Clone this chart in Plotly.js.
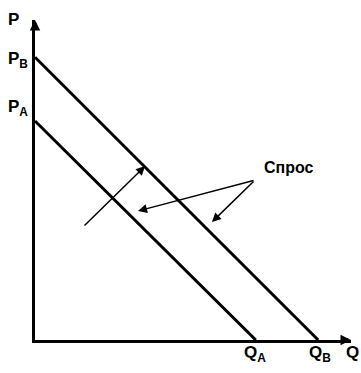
<!DOCTYPE html>
<html><head><meta charset="utf-8">
<script src="https://cdn.plot.ly/plotly-3.0.1.min.js"></script>
<style>html,body{margin:0;padding:0;background:#fff}#c{width:361px;height:373px}</style>
</head><body><div id="c"></div>
<script>
// Demand curves (price intercept, quantity intercept)
const demandA_Q = [0, 6.9];
const demandA_P = [6.74, 0];
const demandB_Q = [0, 8.85];
const demandB_P = [8.7, 0];
// Shift arrow (from, to)
const shiftQ = [1.5, 3.44];
const shiftP = [3.48, 5.35];
// Label "Спрос" and its pointer targets
const labelText = "Спрос";
const labelPos = [7.95, 5.3];
const pointerFrom = [6.875, 4.92];
const pointerTargetsQ = [3.22, 5.53];
const pointerTargetsP = [3.97, 3.63];
const xMax = 9.875, yMax = 9.846;

const font = {family: "Liberation Sans, Arial, sans-serif", color: "#000"};
const traces = [
  {x: demandA_Q, y: demandA_P, mode: "lines", line: {color: "#000", width: 3}, hoverinfo: "skip"},
  {x: demandB_Q, y: demandB_P, mode: "lines", line: {color: "#000", width: 3}, hoverinfo: "skip"}
];
const ann = [];
// axis arrowheads
ann.push({x: 0, y: yMax, ax: 0, ay: yMax - 0.3, xref: "x", yref: "y", axref: "x", ayref: "y", text: "", showarrow: true, arrowhead: 2, arrowsize: 0.7, arrowwidth: 3, arrowcolor: "#000"});
ann.push({x: xMax, y: 0, ax: xMax - 0.3, ay: 0, xref: "x", yref: "y", axref: "x", ayref: "y", text: "", showarrow: true, arrowhead: 2, arrowsize: 0.7, arrowwidth: 3, arrowcolor: "#000"});
// shift arrow
ann.push({x: shiftQ[1], y: shiftP[1], ax: shiftQ[0], ay: shiftP[0], xref: "x", yref: "y", axref: "x", ayref: "y", text: "", showarrow: true, arrowhead: 2, arrowsize: 1.2, arrowwidth: 1.5, arrowcolor: "#000"});
// pointers
for (let i = 0; i < pointerTargetsQ.length; i++) {
  ann.push({x: pointerTargetsQ[i], y: pointerTargetsP[i], ax: pointerFrom[0], ay: pointerFrom[1], xref: "x", yref: "y", axref: "x", ayref: "y", text: "", showarrow: true, arrowhead: 2, arrowsize: 1.2, arrowwidth: 1.5, arrowcolor: "#000"});
}
ann.push({x: labelPos[0], y: labelPos[1], xref: "x", yref: "y", text: "<b>" + labelText + "</b>", showarrow: false, font: Object.assign({size: 16}, font)});
// axis labels (paper coordinates, derived from data values)
const bold = (s) => "<b>" + s + "</b>";
const f17 = Object.assign({size: 17}, font);
ann.push({x: 0, y: 1, xref: "paper", yref: "paper", xanchor: "right", yanchor: "middle", xshift: -14, yshift: 1, text: bold("P"), showarrow: false, font: f17});
ann.push({x: 0, y: demandB_P[0] / yMax, xref: "paper", yref: "paper", xanchor: "right", yanchor: "middle", xshift: -5, yshift: -3, text: bold("P<sub>В</sub>"), showarrow: false, font: f17});
ann.push({x: 0, y: demandA_P[0] / yMax, xref: "paper", yref: "paper", xanchor: "right", yanchor: "middle", xshift: -5, yshift: 13, text: bold("P<sub>A</sub>"), showarrow: false, font: f17});
ann.push({x: demandA_Q[1] / xMax, y: 0, xref: "paper", yref: "paper", xanchor: "center", yanchor: "top", xshift: -1, yshift: -1, text: bold("Q<sub>A</sub>"), showarrow: false, font: f17});
ann.push({x: demandB_Q[1] / xMax, y: 0, xref: "paper", yref: "paper", xanchor: "center", yanchor: "top", xshift: 2, yshift: -1, text: bold("Q<sub>В</sub>"), showarrow: false, font: f17});
ann.push({x: 1, y: 0, xref: "paper", yref: "paper", xanchor: "center", yanchor: "top", xshift: 1, yshift: -1, text: bold("Q"), showarrow: false, font: f17});

const layout = {
  width: 361, height: 373,
  margin: {l: 35, r: 10, t: 20, b: 33},
  showlegend: false,
  paper_bgcolor: "#fff", plot_bgcolor: "#fff",
  xaxis: {range: [0, xMax], showgrid: false, zeroline: false, showticklabels: false, ticks: "", showline: true, linewidth: 3, linecolor: "#000", fixedrange: true},
  yaxis: {range: [0, yMax], showgrid: false, zeroline: false, showticklabels: false, ticks: "", showline: true, linewidth: 3, linecolor: "#000", fixedrange: true},
  annotations: ann
};
Plotly.newPlot("c", traces, layout, {displayModeBar: false, staticPlot: true});
</script></body></html>
